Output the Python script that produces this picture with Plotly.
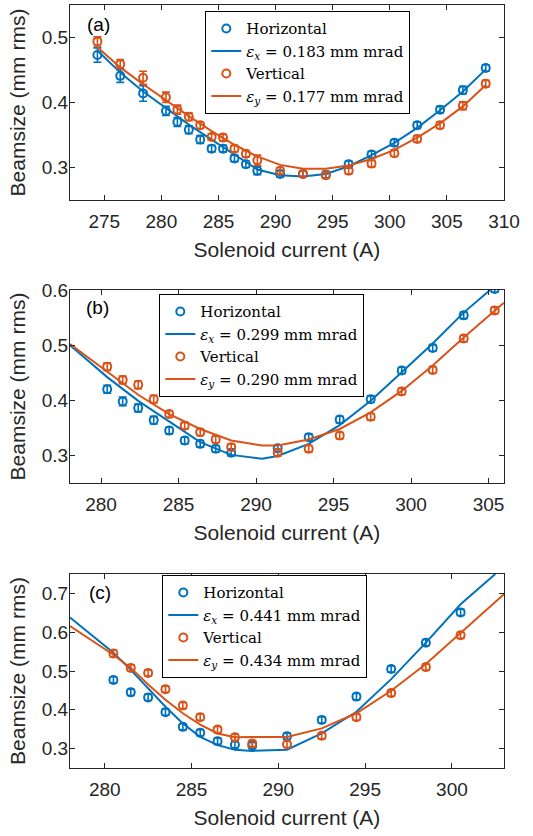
import plotly.graph_objects as go

# ---------------- data ----------------
# Panel (a)
xa = [274.4, 276.4, 278.4, 280.4, 281.4, 282.4, 283.4, 284.4, 285.4, 286.4, 287.4,
      288.4, 290.4, 292.4, 294.4, 296.4, 298.4, 300.4, 302.4, 304.4, 306.4, 308.4]
ha = [0.473, 0.441, 0.414, 0.387, 0.370, 0.358, 0.343, 0.329, 0.329, 0.314, 0.305,
      0.295, 0.290, 0.290, 0.289, 0.305, 0.320, 0.338, 0.365, 0.389, 0.419, 0.453]
ha_err = [0.011, 0.010, 0.012, 0.007, 0.007, 0.006, 0.006, 0.005, 0.005, 0.005, 0.005,
          0.006, 0.005, 0.005, 0.005, 0.005, 0.005, 0.005, 0.005, 0.005, 0.006, 0.005]
va = [0.494, 0.459, 0.438, 0.408, 0.389, 0.378, 0.365, 0.347, 0.346, 0.329, 0.321,
      0.311, 0.295, 0.290, 0.288, 0.295, 0.306, 0.322, 0.344, 0.365, 0.395, 0.429]
va_err = [0.007, 0.007, 0.010, 0.008, 0.007, 0.006, 0.005, 0.005, 0.005, 0.005, 0.005,
          0.008, 0.005, 0.005, 0.005, 0.005, 0.005, 0.005, 0.005, 0.005, 0.006, 0.005]
fit_xa = [274.4, 276.4, 278.4, 280.4, 282.4, 284.4, 286.4, 288.4, 290.4, 292.4, 294.4,
          296.4, 298.4, 300.4, 302.4, 304.4, 306.4, 308.4]
fit_ha = [0.480, 0.446, 0.417, 0.392, 0.366, 0.343, 0.320, 0.297, 0.288, 0.286, 0.290,
          0.302, 0.319, 0.338, 0.361, 0.388, 0.417, 0.451]
fit_va = [0.485, 0.454, 0.428, 0.403, 0.379, 0.356, 0.335, 0.317, 0.304, 0.298, 0.298,
          0.303, 0.313, 0.327, 0.346, 0.368, 0.394, 0.427]

# Panel (b)
xb = [280.4, 281.4, 282.4, 283.4, 284.4, 285.4, 286.4, 287.4, 288.4, 291.4, 293.4,
      295.4, 297.4, 299.4, 301.4, 303.4, 305.4]
hb = [0.420, 0.398, 0.386, 0.364, 0.345, 0.327, 0.321, 0.312, 0.305, 0.313, 0.333,
      0.365, 0.402, 0.454, 0.495, 0.554, 0.602]
hb_err = [0.007, 0.008, 0.007, 0.007, 0.006, 0.006, 0.006, 0.006, 0.006, 0.006, 0.006,
          0.006, 0.006, 0.006, 0.006, 0.006, 0.006]
vb = [0.461, 0.437, 0.428, 0.402, 0.375, 0.354, 0.342, 0.329, 0.315, 0.305, 0.312,
      0.336, 0.370, 0.416, 0.455, 0.512, 0.563]
vb_err = [0.007, 0.007, 0.007, 0.007, 0.006, 0.006, 0.006, 0.006, 0.006, 0.006, 0.006,
          0.006, 0.006, 0.006, 0.006, 0.006, 0.006]
fit_xb_h = [278.0, 280.4, 282.4, 284.4, 286.4, 288.4, 290.4, 291.4, 293.4, 295.4, 297.4,
            299.4, 301.4, 303.4, 305.1]
fit_hb = [0.500, 0.442, 0.399, 0.361, 0.324, 0.301, 0.294, 0.299, 0.321, 0.355, 0.399,
          0.451, 0.503, 0.559, 0.600]
fit_xb_v = [278.0, 280.4, 282.4, 284.4, 286.4, 288.4, 290.4, 291.4, 293.4, 295.4, 297.4,
            299.4, 301.4, 303.4, 306.0]
fit_vb = [0.502, 0.451, 0.410, 0.375, 0.348, 0.327, 0.318, 0.318, 0.329, 0.348, 0.378,
          0.417, 0.463, 0.514, 0.577]

# Panel (c)
xc = [280.5, 281.5, 282.5, 283.5, 284.5, 285.5, 286.5, 287.5, 288.5, 290.5, 292.5,
      294.5, 296.5, 298.5, 300.5]
hc = [0.477, 0.445, 0.432, 0.394, 0.356, 0.341, 0.319, 0.310, 0.308, 0.332, 0.374,
      0.434, 0.505, 0.573, 0.651]
hc_err = [0.008, 0.008, 0.008, 0.008, 0.008, 0.008, 0.008, 0.008, 0.008, 0.008, 0.008,
          0.008, 0.008, 0.008, 0.008]
vc = [0.545, 0.508, 0.495, 0.453, 0.411, 0.381, 0.349, 0.329, 0.313, 0.311, 0.333,
      0.381, 0.443, 0.510, 0.592]
vc_err = [0.009, 0.008, 0.008, 0.008, 0.008, 0.008, 0.008, 0.008, 0.008, 0.008, 0.008,
          0.008, 0.008, 0.008, 0.008]
fit_xc_h = [278.0, 280.5, 281.5, 282.5, 283.5, 284.5, 285.5, 286.5, 287.5, 288.5, 290.5,
            292.5, 294.5, 296.5, 298.5, 300.5, 302.5]
fit_hc = [0.638, 0.547, 0.503, 0.456, 0.408, 0.365, 0.330, 0.309, 0.297, 0.294, 0.297,
          0.339, 0.395, 0.479, 0.573, 0.672, 0.750]
fit_xc_v = [278.0, 280.5, 281.5, 282.5, 283.5, 284.5, 285.5, 286.5, 287.5, 288.5, 290.5,
            292.5, 294.5, 296.5, 298.5, 300.5, 303.0]
fit_vc = [0.616, 0.542, 0.508, 0.465, 0.426, 0.391, 0.362, 0.339, 0.329, 0.330, 0.330,
          0.352, 0.391, 0.449, 0.518, 0.597, 0.698]

emit_labels = [("0.183", "0.177"), ("0.299", "0.290"), ("0.441", "0.434")]
panel_labels = ["(a)", "(b)", "(c)"]

# ---------------- style ----------------
BLUE = "#0072BD"
ORANGE = "#D95319"
AX = "#262626"
SANS = "Liberation Sans, Arial, sans-serif"
SERIF = "DejaVu Serif, Liberation Serif, serif"

W, H = 533, 836
ML, MR, MT, MB = 70, 29, 5, 68
PW, PH = W - ML - MR, H - MT - MB


def px_x(px):
    return (px - ML) / PW


def px_y(py):
    return (H - MB - py) / PH


fig = go.Figure()

panels = [
    (xa, ha, ha_err, va, va_err, fit_xa, fit_ha, fit_xa, fit_va),
    (xb, hb, hb_err, vb, vb_err, fit_xb_h, fit_hb, fit_xb_v, fit_vb),
    (xc, hc, hc_err, vc, vc_err, fit_xc_h, fit_hc, fit_xc_v, fit_vc),
]

for i, (x, h, he, v, ve, fxh, fh, fxv, fv) in enumerate(panels):
    ax = "" if i == 0 else str(i + 1)
    lg = "legend" if i == 0 else "legend%d" % (i + 1)
    ex, ey = emit_labels[i]
    common = dict(xaxis="x" + ax, yaxis="y" + ax, legend=lg)
    fig.add_trace(go.Scatter(
        x=x, y=h, mode="markers", name="Horizontal",
        marker=dict(symbol="circle-open", size=8, color=BLUE, line=dict(width=2, color=BLUE)),
        error_y=dict(type="data", array=he, color=BLUE, thickness=1.6, width=4),
        **common))
    fig.add_trace(go.Scatter(
        x=fxh, y=fh, mode="lines",
        name="<i>ε</i><sub><i>x</i></sub> = %s mm mrad" % ex,
        line=dict(color=BLUE, width=2), **common))
    fig.add_trace(go.Scatter(
        x=x, y=v, mode="markers", name="Vertical",
        marker=dict(symbol="circle-open", size=8, color=ORANGE, line=dict(width=2, color=ORANGE)),
        error_y=dict(type="data", array=ve, color=ORANGE, thickness=1.6, width=4),
        **common))
    fig.add_trace(go.Scatter(
        x=fxv, y=fv, mode="lines",
        name="<i>ε</i><sub><i>y</i></sub> = %s mm mrad" % ey,
        line=dict(color=ORANGE, width=2), **common))

# pixel boxes of the three axes (top, bottom)
boxes = [(5, 200), (290, 483), (574, 768)]
x_ranges = [[272, 310], [278, 306], [278, 303]]
y_ranges = [[0.25, 0.55], [0.25, 0.6], [0.25, 0.75]]
x_ticks = [[275, 280, 285, 290, 295, 300, 305, 310], [280, 285, 290, 295, 300, 305],
           [280, 285, 290, 295, 300]]
y_ticks = [[0.3, 0.4, 0.5], [0.3, 0.4, 0.5, 0.6], [0.3, 0.4, 0.5, 0.6, 0.7]]
legend_pos = [(205, 11), (159, 294), (162, 575)]
label_pos = [(98, 24), (97, 307), (100, 592)]

axis_common = dict(showline=True, linecolor=AX, linewidth=1.3, mirror="allticks",
                   ticks="inside", ticklen=5, tickwidth=1.2, tickcolor=AX,
                   showgrid=False, zeroline=False, automargin=False,
                   tickfont=dict(family=SANS, size=19, color=AX))

layout = dict(width=W, height=H, autosize=False,
              margin=dict(l=ML, r=MR, t=MT, b=MB, pad=0),
              paper_bgcolor="white", plot_bgcolor="white",
              showlegend=True, annotations=[])

for i in range(3):
    ax = "" if i == 0 else str(i + 1)
    top, bot = boxes[i]
    layout["xaxis" + ax] = dict(
        domain=[0, 1], range=x_ranges[i], tickvals=x_ticks[i],
        anchor="y" + ax, ticklabelstandoff=4,
        title=dict(text="Solenoid current (A)", font=dict(family=SANS, size=21, color=AX), standoff=11),
        **axis_common)
    layout["yaxis" + ax] = dict(
        domain=[px_y(bot), px_y(top)], range=y_ranges[i], tickvals=y_ticks[i],
        ticktext=["%.1f" % t for t in y_ticks[i]],
        anchor="x" + ax, ticklabelstandoff=-3,
        title=dict(text="Beamsize (mm rms)", font=dict(family=SANS, size=21, color=AX), standoff=10),
        **axis_common)
    lg = "legend" if i == 0 else "legend%d" % (i + 1)
    layout[lg] = dict(
        x=px_x(legend_pos[i][0]), y=px_y(legend_pos[i][1]), xanchor="left", yanchor="top",
        xref="paper", yref="paper",
        bgcolor="white", bordercolor="#000000", borderwidth=1.3,
        font=dict(family=SERIF, size=15, color="#000000"),
        tracegroupgap=0, itemwidth=30)
    lx, ly = label_pos[i]
    layout["annotations"].append(dict(
        text=panel_labels[i], x=px_x(lx), y=px_y(ly), xref="paper", yref="paper",
        showarrow=False, xanchor="center", yanchor="middle",
        font=dict(family=SANS, size=19, color="#000000")))

fig.update_layout(**layout)
fig.write_html("out.html",
               config={"displayModeBar": False},
               post_script="document.body.style.margin='0';document.body.style.overflow='hidden';")
